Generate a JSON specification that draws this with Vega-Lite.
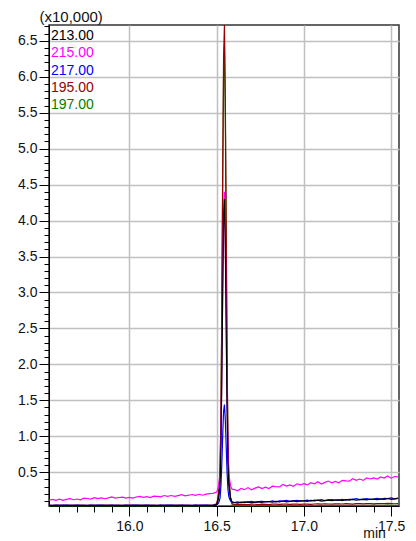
{
"$schema": "https://vega.github.io/schema/vega-lite/v6.json",
"width": 350, "height": 481,
"autosize": {"type": "none"},
"padding": {"left": 49, "top": 25, "right": 17, "bottom": 35},
"background": "white",
"config": {"view": {"stroke": "#333333", "strokeWidth": 1.5}, "font": "Liberation Sans"},
"data": {"values": [
{"t":15.54,"i213":0.035,"i215":0.110,"i217":0.040,"i195":0.042,"i197":0.033},
{"t":15.56,"i213":0.037,"i215":0.122,"i217":0.038,"i195":0.040,"i197":0.034},
{"t":15.58,"i213":0.034,"i215":0.109,"i217":0.042,"i195":0.043,"i197":0.032},
{"t":15.60,"i213":0.036,"i215":0.124,"i217":0.039,"i195":0.041,"i197":0.033},
{"t":15.62,"i213":0.033,"i215":0.108,"i217":0.041,"i195":0.044,"i197":0.035},
{"t":15.64,"i213":0.038,"i215":0.123,"i217":0.043,"i195":0.040,"i197":0.032},
{"t":15.66,"i213":0.035,"i215":0.133,"i217":0.038,"i195":0.042,"i197":0.034},
{"t":15.68,"i213":0.034,"i215":0.117,"i217":0.040,"i195":0.043,"i197":0.033},
{"t":15.70,"i213":0.037,"i215":0.127,"i217":0.042,"i195":0.041,"i197":0.032},
{"t":15.72,"i213":0.036,"i215":0.115,"i217":0.039,"i195":0.042,"i197":0.034},
{"t":15.74,"i213":0.035,"i215":0.138,"i217":0.040,"i195":0.042,"i197":0.033},
{"t":15.76,"i213":0.037,"i215":0.134,"i217":0.038,"i195":0.040,"i197":0.034},
{"t":15.78,"i213":0.034,"i215":0.125,"i217":0.042,"i195":0.043,"i197":0.032},
{"t":15.80,"i213":0.036,"i215":0.145,"i217":0.039,"i195":0.041,"i197":0.033},
{"t":15.82,"i213":0.033,"i215":0.132,"i217":0.041,"i195":0.044,"i197":0.035},
{"t":15.84,"i213":0.038,"i215":0.144,"i217":0.043,"i195":0.040,"i197":0.032},
{"t":15.86,"i213":0.035,"i215":0.131,"i217":0.038,"i195":0.042,"i197":0.034},
{"t":15.88,"i213":0.034,"i215":0.142,"i217":0.040,"i195":0.043,"i197":0.033},
{"t":15.90,"i213":0.037,"i215":0.157,"i217":0.042,"i195":0.041,"i197":0.032},
{"t":15.92,"i213":0.036,"i215":0.139,"i217":0.039,"i195":0.042,"i197":0.034},
{"t":15.94,"i213":0.035,"i215":0.148,"i217":0.040,"i195":0.042,"i197":0.033},
{"t":15.96,"i213":0.037,"i215":0.152,"i217":0.038,"i195":0.040,"i197":0.034},
{"t":15.98,"i213":0.034,"i215":0.141,"i217":0.042,"i195":0.043,"i197":0.032},
{"t":16.00,"i213":0.036,"i215":0.150,"i217":0.039,"i195":0.041,"i197":0.033},
{"t":16.02,"i213":0.033,"i215":0.140,"i217":0.041,"i195":0.044,"i197":0.035},
{"t":16.04,"i213":0.038,"i215":0.155,"i217":0.043,"i195":0.040,"i197":0.032},
{"t":16.06,"i213":0.035,"i215":0.163,"i217":0.038,"i195":0.042,"i197":0.034},
{"t":16.08,"i213":0.034,"i215":0.150,"i217":0.040,"i195":0.043,"i197":0.033},
{"t":16.10,"i213":0.037,"i215":0.159,"i217":0.042,"i195":0.041,"i197":0.032},
{"t":16.12,"i213":0.036,"i215":0.148,"i217":0.039,"i195":0.042,"i197":0.034},
{"t":16.14,"i213":0.035,"i215":0.168,"i217":0.040,"i195":0.042,"i197":0.033},
{"t":16.16,"i213":0.037,"i215":0.165,"i217":0.038,"i195":0.040,"i197":0.034},
{"t":16.18,"i213":0.034,"i215":0.157,"i217":0.042,"i195":0.043,"i197":0.032},
{"t":16.20,"i213":0.036,"i215":0.176,"i217":0.039,"i195":0.041,"i197":0.033},
{"t":16.22,"i213":0.033,"i215":0.165,"i217":0.041,"i195":0.044,"i197":0.035},
{"t":16.24,"i213":0.038,"i215":0.176,"i217":0.043,"i195":0.040,"i197":0.032},
{"t":16.26,"i213":0.035,"i215":0.164,"i217":0.038,"i195":0.042,"i197":0.034},
{"t":16.28,"i213":0.034,"i215":0.175,"i217":0.040,"i195":0.043,"i197":0.033},
{"t":16.30,"i213":0.037,"i215":0.187,"i217":0.042,"i195":0.041,"i197":0.032},
{"t":16.32,"i213":0.036,"i215":0.172,"i217":0.039,"i195":0.042,"i197":0.034},
{"t":16.34,"i213":0.035,"i215":0.180,"i217":0.040,"i195":0.042,"i197":0.033},
{"t":16.36,"i213":0.037,"i215":0.190,"i217":0.038,"i195":0.040,"i197":0.034},
{"t":16.38,"i213":0.034,"i215":0.179,"i217":0.042,"i195":0.043,"i197":0.032},
{"t":16.40,"i213":0.036,"i215":0.193,"i217":0.039,"i195":0.041,"i197":0.033},
{"t":16.42,"i213":0.033,"i215":0.180,"i217":0.041,"i195":0.044,"i197":0.035},
{"t":16.44,"i213":0.038,"i215":0.194,"i217":0.043,"i195":0.040,"i197":0.032},
{"t":16.46,"i213":0.035,"i215":0.203,"i217":0.038,"i195":0.042,"i197":0.034},
{"t":16.48,"i213":0.036,"i215":0.205,"i217":0.040,"i195":0.043,"i197":0.033},
{"t":16.500,"i213":0.049,"i215":0.223,"i217":0.044,"i195":0.062,"i197":0.052},
{"t":16.505,"i213":0.079,"i215":0.252,"i217":0.054,"i195":0.109,"i197":0.097},
{"t":16.510,"i213":0.121,"i215":0.294,"i217":0.068,"i195":0.176,"i197":0.161},
{"t":16.515,"i213":0.206,"i215":0.378,"i217":0.096,"i195":0.309,"i197":0.290},
{"t":16.520,"i213":0.349,"i215":0.518,"i217":0.143,"i195":0.532,"i197":0.504},
{"t":16.525,"i213":0.865,"i215":1.025,"i217":0.312,"i195":1.341,"i197":1.281},
{"t":16.530,"i213":1.788,"i215":1.932,"i217":0.615,"i195":2.787,"i197":2.670},
{"t":16.535,"i213":2.991,"i215":3.114,"i217":1.010,"i195":4.671,"i197":4.480},
{"t":16.540,"i213":4.002,"i215":4.107,"i217":1.342,"i195":6.254,"i197":6.001},
{"t":16.545,"i213":4.300,"i215":4.400,"i217":1.440,"i195":6.720,"i197":6.450},
{"t":16.550,"i213":3.662,"i215":3.773,"i217":1.235,"i195":5.713,"i197":5.481},
{"t":16.555,"i213":2.517,"i215":2.649,"i217":0.866,"i195":3.905,"i197":3.743},
{"t":16.560,"i213":1.397,"i215":1.549,"i217":0.506,"i195":2.138,"i197":2.043},
{"t":16.565,"i213":0.645,"i215":0.810,"i217":0.264,"i195":0.950,"i197":0.901},
{"t":16.570,"i213":0.320,"i215":0.490,"i217":0.160,"i195":0.440,"i197":0.410},
{"t":16.575,"i213":0.223,"i215":0.395,"i217":0.128,"i195":0.284,"i197":0.260},
{"t":16.580,"i213":0.138,"i215":0.312,"i217":0.100,"i195":0.150,"i197":0.131},
{"t":16.585,"i213":0.105,"i215":0.279,"i217":0.090,"i195":0.097,"i197":0.080},
{"t":16.590,"i213":0.085,"i215":0.262,"i217":0.083,"i195":0.060,"i197":0.045},
{"t":16.60,"i213":0.079,"i215":0.260,"i217":0.077,"i195":0.052,"i197":0.035},
{"t":16.62,"i213":0.071,"i215":0.242,"i217":0.088,"i195":0.048,"i197":0.034},
{"t":16.64,"i213":0.083,"i215":0.273,"i217":0.076,"i195":0.054,"i197":0.036},
{"t":16.66,"i213":0.077,"i215":0.257,"i217":0.088,"i195":0.051,"i197":0.035},
{"t":16.68,"i213":0.088,"i215":0.286,"i217":0.085,"i195":0.048,"i197":0.037},
{"t":16.70,"i213":0.075,"i215":0.255,"i217":0.095,"i195":0.054,"i197":0.034},
{"t":16.72,"i213":0.083,"i215":0.278,"i217":0.082,"i195":0.054,"i197":0.036},
{"t":16.74,"i213":0.088,"i215":0.296,"i217":0.091,"i195":0.050,"i197":0.035},
{"t":16.76,"i213":0.080,"i215":0.272,"i217":0.096,"i195":0.055,"i197":0.037},
{"t":16.78,"i213":0.089,"i215":0.292,"i217":0.087,"i195":0.053,"i197":0.036},
{"t":16.80,"i213":0.091,"i215":0.272,"i217":0.089,"i195":0.050,"i197":0.035},
{"t":16.82,"i213":0.083,"i215":0.306,"i217":0.100,"i195":0.055,"i197":0.037},
{"t":16.84,"i213":0.095,"i215":0.299,"i217":0.088,"i195":0.056,"i197":0.036},
{"t":16.86,"i213":0.088,"i215":0.295,"i217":0.100,"i195":0.052,"i197":0.038},
{"t":16.88,"i213":0.099,"i215":0.329,"i217":0.097,"i195":0.057,"i197":0.035},
{"t":16.90,"i213":0.087,"i215":0.307,"i217":0.107,"i195":0.055,"i197":0.037},
{"t":16.92,"i213":0.095,"i215":0.324,"i217":0.094,"i195":0.052,"i197":0.036},
{"t":16.94,"i213":0.100,"i215":0.305,"i217":0.103,"i195":0.057,"i197":0.038},
{"t":16.96,"i213":0.092,"i215":0.339,"i217":0.108,"i195":0.057,"i197":0.037},
{"t":16.98,"i213":0.100,"i215":0.325,"i217":0.099,"i195":0.054,"i197":0.036},
{"t":17.00,"i213":0.102,"i215":0.341,"i217":0.101,"i195":0.058,"i197":0.038},
{"t":17.02,"i213":0.095,"i215":0.323,"i217":0.112,"i195":0.056,"i197":0.037},
{"t":17.04,"i213":0.107,"i215":0.354,"i217":0.100,"i195":0.053,"i197":0.039},
{"t":17.06,"i213":0.100,"i215":0.338,"i217":0.112,"i195":0.058,"i197":0.036},
{"t":17.08,"i213":0.111,"i215":0.367,"i217":0.109,"i195":0.059,"i197":0.038},
{"t":17.10,"i213":0.098,"i215":0.336,"i217":0.119,"i195":0.056,"i197":0.037},
{"t":17.12,"i213":0.106,"i215":0.359,"i217":0.106,"i195":0.061,"i197":0.039},
{"t":17.14,"i213":0.112,"i215":0.377,"i217":0.115,"i195":0.058,"i197":0.038},
{"t":17.16,"i213":0.104,"i215":0.353,"i217":0.120,"i195":0.055,"i197":0.037},
{"t":17.18,"i213":0.112,"i215":0.373,"i217":0.111,"i195":0.060,"i197":0.039},
{"t":17.20,"i213":0.114,"i215":0.353,"i217":0.113,"i195":0.061,"i197":0.038},
{"t":17.22,"i213":0.106,"i215":0.387,"i217":0.124,"i195":0.058,"i197":0.040},
{"t":17.24,"i213":0.118,"i215":0.379,"i217":0.112,"i195":0.062,"i197":0.037},
{"t":17.26,"i213":0.112,"i215":0.375,"i217":0.124,"i195":0.060,"i197":0.039},
{"t":17.28,"i213":0.123,"i215":0.409,"i217":0.121,"i195":0.057,"i197":0.038},
{"t":17.30,"i213":0.110,"i215":0.388,"i217":0.131,"i195":0.062,"i197":0.040},
{"t":17.32,"i213":0.118,"i215":0.405,"i217":0.118,"i195":0.063,"i197":0.039},
{"t":17.34,"i213":0.123,"i215":0.386,"i217":0.127,"i195":0.060,"i197":0.038},
{"t":17.36,"i213":0.115,"i215":0.420,"i217":0.132,"i195":0.064,"i197":0.040},
{"t":17.38,"i213":0.124,"i215":0.406,"i217":0.123,"i195":0.062,"i197":0.039},
{"t":17.40,"i213":0.126,"i215":0.422,"i217":0.125,"i195":0.059,"i197":0.041},
{"t":17.42,"i213":0.118,"i215":0.404,"i217":0.136,"i195":0.064,"i197":0.038},
{"t":17.44,"i213":0.130,"i215":0.435,"i217":0.124,"i195":0.065,"i197":0.040},
{"t":17.46,"i213":0.123,"i215":0.419,"i217":0.136,"i195":0.062,"i197":0.039},
{"t":17.48,"i213":0.134,"i215":0.448,"i217":0.133,"i195":0.066,"i197":0.041},
{"t":17.50,"i213":0.122,"i215":0.417,"i217":0.143,"i195":0.064,"i197":0.040},
{"t":17.52,"i213":0.130,"i215":0.440,"i217":0.130,"i195":0.061,"i197":0.039},
{"t":17.54,"i213":0.135,"i215":0.435,"i217":0.139,"i195":0.065,"i197":0.041}
]},
"transform": [{"fold": ["i197", "i195", "i217", "i215", "i213"], "as": ["ion", "v"]}],
"mark": {"type": "line", "strokeWidth": 1.2, "clip": false},
"encoding": {
  "x": {"field": "t", "type": "quantitative",
    "scale": {"domain": [15.54, 17.545], "nice": false, "zero": false},
    "axis": {
      "values": [15.6,15.7,15.8,15.9,16.0,16.1,16.2,16.3,16.4,16.5,16.6,16.7,16.8,16.9,17.0,17.1,17.2,17.3,17.4,17.5],
      "labelExpr": "abs(datum.value*2-round(datum.value*2))<0.001 ? format(datum.value,'.1f') : ''",
      "tickSize": {"condition": {"test": "abs(datum.value*2-round(datum.value*2))<0.001", "value": 10}, "value": 6},
      "gridOpacity": {"condition": {"test": "abs(datum.value*2-round(datum.value*2))<0.001", "value": 1}, "value": 0},
      "grid": true, "gridColor": "#c0c0c0", "gridWidth": 1.5,
      "domainColor": "#000000", "tickColor": "#000000", "tickWidth": 1,
      "labelFontSize": 14, "labelColor": "#111111", "labelPadding": 3, "labelFlush": false, "labelOverlap": false,
      "title": "min", "titleFontSize": 14, "titleFontWeight": "normal", "titleColor": "#111111",
      "titleX": 325, "titleY": 31, "titleAlign": "center", "titleBaseline": "alphabetic"
    }
  },
  "y": {"field": "v", "type": "quantitative",
    "scale": {"domain": [0.03, 6.72], "nice": false, "zero": false},
    "axis": {
      "values": [0.1,0.2,0.3,0.4,0.5,0.6,0.7,0.8,0.9,1.0,1.1,1.2,1.3,1.4,1.5,1.6,1.7,1.8,1.9,2.0,2.1,2.2,2.3,2.4,2.5,2.6,2.7,2.8,2.9,3.0,3.1,3.2,3.3,3.4,3.5,3.6,3.7,3.8,3.9,4.0,4.1,4.2,4.3,4.4,4.5,4.6,4.7,4.8,4.9,5.0,5.1,5.2,5.3,5.4,5.5,5.6,5.7,5.8,5.9,6.0,6.1,6.2,6.3,6.4,6.5,6.6,6.7],
      "labelExpr": "abs(datum.value*2-round(datum.value*2))<0.001 ? format(datum.value,'.1f') : ''",
      "tickSize": {"condition": {"test": "abs(datum.value*2-round(datum.value*2))<0.001", "value": 10}, "value": 5},
      "gridOpacity": {"condition": {"test": "abs(datum.value*2-round(datum.value*2))<0.001", "value": 1}, "value": 0},
      "grid": true, "gridColor": "#c0c0c0", "gridWidth": 1.5,
      "domainColor": "#000000", "tickColor": "#000000", "tickWidth": 1,
      "labelFontSize": 14, "labelColor": "#111111", "labelPadding": 2, "labelFlush": false, "labelOverlap": false,
      "title": "(x10,000)", "titleFontSize": 15, "titleFontWeight": "normal", "titleColor": "#111111",
      "titleAngle": 0, "titleX": -10, "titleY": -4, "titleAlign": "left", "titleBaseline": "alphabetic"
    }
  },
  "color": {"field": "ion", "type": "nominal",
    "scale": {"domain": ["i213", "i215", "i217", "i195", "i197"], "range": ["#000000", "#ff00ff", "#0000ff", "#990000", "#008000"]},
    "legend": {"title": null, "orient": "top-left", "offset": 4, "padding": 0,
      "symbolType": "stroke", "symbolSize": 0, "symbolStrokeWidth": 0, "symbolOpacity": 0,
      "labelOffset": -16, "labelFontSize": 14, "labelFont": "Liberation Sans", "rowPadding": 3.3,
      "labelExpr": "slice(datum.label,1)+'.00'",
      "encode": {"labels": {"update": {"fill": {"scale": "color", "field": "value"}}}}
    }
  }
}
}
